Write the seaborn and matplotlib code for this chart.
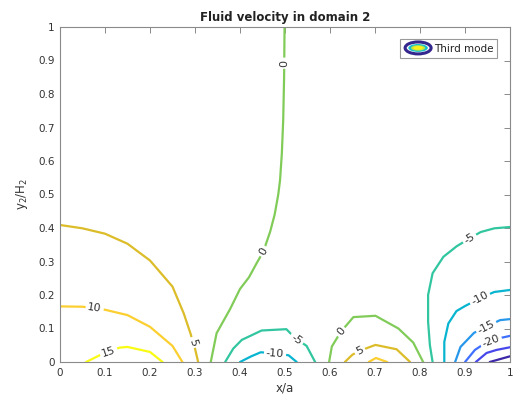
import numpy as np
import pandas as pd
import matplotlib
matplotlib.use("Agg")
import matplotlib.pyplot as plt
import seaborn as sns
from matplotlib.patches import Ellipse
from matplotlib.legend_handler import HandlerBase

# ---- contour levels and their (parula) colours ----
levels = [-30, -25, -20, -15, -10, -5, 0, 5, 10, 15]
level_colors = [
    (0.2422, 0.1504, 0.6603), (0.2803, 0.2782, 0.9221), (0.2440, 0.4358, 0.9988),
    (0.1540, 0.5902, 0.9218), (0.0297, 0.7082, 0.8163), (0.1938, 0.7758, 0.6251),
    (0.5044, 0.7993, 0.3480), (0.8634, 0.7406, 0.1596), (0.9892, 0.8136, 0.1885),
    (0.9769, 0.9839, 0.0805),
]

# ---- iso-velocity lines (x/a, y2/H2) ----
c15_a_x = [0.058, 0.100, 0.133, 0.150, 0.200, 0.228]
c15_a_y = [0.000, 0.028, 0.043, 0.045, 0.030, 0.000]

c10_a_x = [0.000, 0.050, 0.100, 0.150, 0.200, 0.250, 0.272]
c10_a_y = [0.166, 0.165, 0.156, 0.140, 0.105, 0.048, 0.000]

c5_a_x = [0.000, 0.050, 0.100, 0.150, 0.200, 0.250, 0.275, 0.290, 0.300, 0.307]
c5_a_y = [0.409, 0.399, 0.383, 0.353, 0.303, 0.225, 0.145, 0.085, 0.040, 0.000]

c0_a_x = [0.335, 0.348, 0.378, 0.400, 0.420, 0.437, 0.452, 0.467, 0.477, 0.485,
          0.489, 0.493, 0.496, 0.498, 0.499]
c0_a_y = [0.000, 0.086, 0.158, 0.218, 0.253, 0.295, 0.330, 0.389, 0.440, 0.500,
          0.543, 0.623, 0.722, 0.850, 1.000]

cm5_a_x = [0.367, 0.385, 0.404, 0.448, 0.503, 0.522, 0.548, 0.567]
cm5_a_y = [0.000, 0.040, 0.066, 0.094, 0.098, 0.072, 0.048, 0.000]

cm10_a_x = [0.400, 0.425, 0.446, 0.478, 0.508, 0.526]
cm10_a_y = [0.000, 0.017, 0.029, 0.026, 0.020, 0.000]

c0_b_x = [0.598, 0.604, 0.624, 0.652, 0.701, 0.752, 0.785, 0.807]
c0_b_y = [0.000, 0.046, 0.090, 0.134, 0.138, 0.100, 0.058, 0.000]

c5_b_x = [0.633, 0.650, 0.667, 0.701, 0.748, 0.778]
c5_b_y = [0.000, 0.022, 0.034, 0.051, 0.038, 0.000]

c10_b_x = [0.686, 0.702, 0.727]
c10_b_y = [0.000, 0.012, 0.000]

cm5_b_x = [0.828, 0.822, 0.818, 0.818, 0.828, 0.852, 0.881, 0.910, 0.935, 0.965, 1.000]
cm5_b_y = [0.000, 0.050, 0.120, 0.200, 0.265, 0.314, 0.345, 0.369, 0.388, 0.399, 0.403]

cm10_b_x = [0.854, 0.854, 0.863, 0.881, 0.900, 0.933, 0.965, 1.000]
cm10_b_y = [0.000, 0.060, 0.115, 0.152, 0.167, 0.190, 0.209, 0.215]

cm15_b_x = [0.878, 0.890, 0.920, 0.948, 0.978, 1.000]
cm15_b_y = [0.000, 0.045, 0.087, 0.106, 0.125, 0.128]

cm20_b_x = [0.900, 0.922, 0.940, 0.960, 0.980, 1.000]
cm20_b_y = [0.000, 0.036, 0.052, 0.062, 0.072, 0.078]

cm25_b_x = [0.924, 0.948, 0.970, 1.000]
cm25_b_y = [0.000, 0.027, 0.036, 0.044]

cm30_b_x = [0.955, 1.000]
cm30_b_y = [0.000, 0.017]

segments = [
    (15, c15_a_x, c15_a_y), (10, c10_a_x, c10_a_y), (5, c5_a_x, c5_a_y),
    (0, c0_a_x, c0_a_y), (-5, cm5_a_x, cm5_a_y), (-10, cm10_a_x, cm10_a_y),
    (0, c0_b_x, c0_b_y), (5, c5_b_x, c5_b_y), (10, c10_b_x, c10_b_y),
    (-5, cm5_b_x, cm5_b_y), (-10, cm10_b_x, cm10_b_y), (-15, cm15_b_x, cm15_b_y),
    (-20, cm20_b_x, cm20_b_y), (-25, cm25_b_x, cm25_b_y), (-30, cm30_b_x, cm30_b_y),
]

# inline level labels: (level, x/a, y2/H2)
label_spots = [
    (15, 0.108, 0.031), (10, 0.077, 0.160), (5, 0.295, 0.058),
    (0, 0.452, 0.330), (0, 0.498, 0.892), (-5, 0.526, 0.068),
    (-10, 0.478, 0.026), (0, 0.625, 0.090), (5, 0.666, 0.034),
    (-5, 0.910, 0.369), (-10, 0.933, 0.190), (-15, 0.947, 0.105),
    (-20, 0.958, 0.062),
]

x_ticks = [0, 0.1, 0.2, 0.3, 0.4, 0.5, 0.6, 0.7, 0.8, 0.9, 1]
y_ticks = [0, 0.1, 0.2, 0.3, 0.4, 0.5, 0.6, 0.7, 0.8, 0.9, 1]

# ---- build long-form table ----
rows = []
for sid, (lev, xs, ys) in enumerate(segments):
    for order, (xv, yv) in enumerate(zip(xs, ys)):
        rows.append({"x": xv, "y": yv, "level": lev, "seg": sid, "order": order})
df = pd.DataFrame(rows)

sns.set_style("white")
plt.rcParams["font.family"] = ["DejaVu Sans"]
plt.rcParams["mathtext.default"] = "regular"

fig = plt.figure(figsize=(5.13, 4.08), dpi=100)
ax = fig.add_axes([60 / 513, 1 - 362 / 408, 450 / 513, 335 / 408])

palette = {lev: col for lev, col in zip(levels, level_colors)}
sns.lineplot(data=df, x="x", y="y", hue="level", units="seg", estimator=None,
             sort=False, palette=palette, legend=False, linewidth=1.6, ax=ax)

ax.set_xlim(0, 1)
ax.set_ylim(0, 1)
ax.set_xticks(x_ticks)
ax.set_yticks(y_ticks)
ax.set_xticklabels([f"{t:g}" for t in x_ticks])
ax.set_yticklabels([f"{t:g}" for t in y_ticks])
ax.tick_params(direction="in", length=4, width=0.7, color="#8a8a8a",
               labelsize=7.5, labelcolor="#333333", top=True, right=True,
               labeltop=False, labelright=False, pad=4)
for sp in ax.spines.values():
    sp.set_color("#8a8a8a")
    sp.set_linewidth(0.8)
    sp.set_zorder(4)

ax.set_title("Fluid velocity in domain 2", fontsize=8.5, fontweight="bold",
             color="#222222", pad=4)
ax.set_xlabel("x/a", fontsize=8.5, color="#333333", labelpad=3)
ax.set_ylabel(r"y$_2$/H$_2$", fontsize=8.5, color="#333333", labelpad=6)

# ---- inline labels oriented along their line ----
fig.canvas.draw()
for lev, lx, ly in label_spots:
    px, py = ax.transData.transform((lx, ly))
    best = None
    for sl, xs, ys in segments:
        if sl != lev:
            continue
        pts = ax.transData.transform(np.column_stack([xs, ys]))
        for i in range(len(pts) - 1):
            a, b = pts[i], pts[i + 1]
            d = b - a
            t = np.clip(np.dot([px, py] - a, d) / max(np.dot(d, d), 1e-9), 0, 1)
            dist = np.hypot(*(a + t * d - [px, py]))
            if best is None or dist < best[0]:
                best = (dist, d)
    ang = np.degrees(np.arctan2(best[1][1], best[1][0]))
    if ang > 90:
        ang -= 180
    elif ang <= -90:
        ang += 180
    ax.text(lx, ly, f"{lev:g}", fontsize=8, color="#333333", rotation=ang,
            rotation_mode="anchor", ha="center", va="center", zorder=3,
            bbox=dict(facecolor="white", edgecolor="none", pad=1.5))


# ---- legend with an elliptical contour icon ----
class ModeIcon:
    pass


class HandlerModeIcon(HandlerBase):
    def create_artists(self, legend, orig_handle, xdescent, ydescent,
                       width, height, fontsize, trans):
        cx = width / 2 - xdescent
        cy = height / 2 - ydescent
        return [
            Ellipse((cx, cy), width * 0.96, height * 1.5, facecolor="white",
                    edgecolor=(0.2, 0.15, 0.55), lw=2.2, transform=trans),
            Ellipse((cx, cy), width * 0.72, height * 1.0,
                    facecolor=(0.1, 0.75, 0.8), edgecolor="none", transform=trans),
            Ellipse((cx, cy), width * 0.52, height * 0.68,
                    facecolor=(0.75, 0.9, 0.25), edgecolor="none", transform=trans),
            Ellipse((cx, cy), width * 0.36, height * 0.45,
                    facecolor=(1.0, 0.95, 0.1), edgecolor="none", transform=trans),
        ]


leg = ax.legend([ModeIcon()], ["Third mode"], handler_map={ModeIcon: HandlerModeIcon()},
                loc="upper right", bbox_to_anchor=(0.972, 0.963), borderaxespad=0,
                fontsize=7.5, frameon=True, fancybox=False, framealpha=1,
                edgecolor="#9a9a9a", handlelength=2.6, handleheight=0.8,
                handletextpad=0.2, borderpad=0.4)
leg.get_frame().set_linewidth(0.8)
for t in leg.get_texts():
    t.set_color("#222222")

fig.savefig("out.png", dpi=100, facecolor="white")
